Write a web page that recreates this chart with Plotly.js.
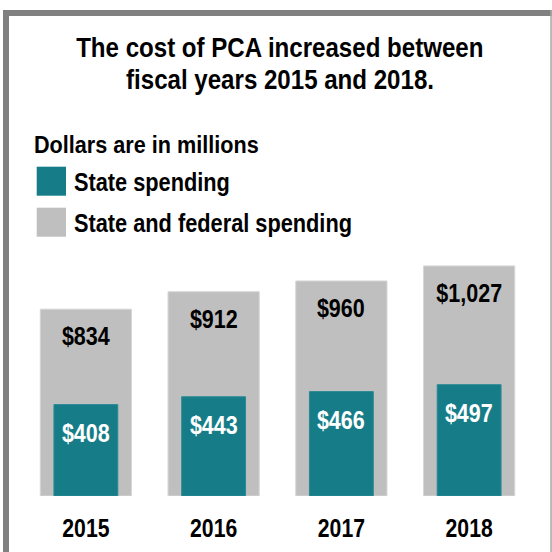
<!DOCTYPE html>
<html>
<head>
<meta charset="utf-8">
<script src="https://cdn.plot.ly/plotly-3.0.1.min.js"></script>
<style>
html,body{margin:0;padding:0;background:#fff;}
#chart{width:552px;height:552px;}
</style>
</head>
<body>
<div id="chart"></div>
<script>
const years = ['2015', '2016', '2017', '2018'];
const stateSpending = [408, 443, 466, 497];
const totalSpending = [834, 912, 960, 1027];
const stateLabels = ['$408', '$443', '$466', '$497'];
const totalLabels = ['$834', '$912', '$960', '$1,027'];

const FONT = '"Liberation Sans", Arial, Helvetica, sans-serif';
const TEAL = '#167d88';
const GRAY = '#bfbfbf';

// plot area in pixels
const L = 22, R = 533.2, T = 200, B = 496;
const W = R - L, H = B - T;
const px = x => (x - L) / W;
const py = y => (B - y) / H;

const traces = [
  {type: 'bar', x: years, y: totalSpending, width: 0.714, marker: {color: GRAY, line: {color: '#d6d6d6', width: 1}}, hoverinfo: 'skip'},
  {type: 'bar', x: years, y: stateSpending, width: 0.5, marker: {color: TEAL, line: {color: '#2a8a94', width: 1}}, hoverinfo: 'skip'}
];

// annotations, each with a horizontal condensing factor (narrow bold face)
const annotations = [];
const condense = [];
function addAnn(a, f) { annotations.push(a); condense.push(f); }

years.forEach((yr, i) => {
  addAnn({x: i, y: totalSpending[i], xref: 'x', yref: 'y', text: totalLabels[i], showarrow: false,
    yanchor: 'middle', yshift: -27, font: {family: FONT, size: 25, color: '#000', weight: 700}}, 0.86);
  addAnn({x: i, y: stateSpending[i], xref: 'x', yref: 'y', text: stateLabels[i], showarrow: false,
    yanchor: 'middle', yshift: -28, font: {family: FONT, size: 25, color: '#fff', weight: 700}}, 0.86);
});
// title lines
addAnn({xref: 'paper', yref: 'paper', x: px(280), y: py(48), text: 'The cost of PCA increased between', showarrow: false,
  xanchor: 'center', yanchor: 'middle', font: {family: FONT, size: 28, color: '#000', weight: 700}}, 0.86);
addAnn({xref: 'paper', yref: 'paper', x: px(280), y: py(80), text: 'fiscal years 2015 and 2018.', showarrow: false,
  xanchor: 'center', yanchor: 'middle', font: {family: FONT, size: 28, color: '#000', weight: 700}}, 0.86);
// legend
addAnn({xref: 'paper', yref: 'paper', x: px(32.5), y: py(145.3), text: 'Dollars are in millions', showarrow: false, align: 'left',
  xanchor: 'left', yanchor: 'middle', font: {family: FONT, size: 23.5, color: '#000', weight: 700}}, 0.92);
addAnn({xref: 'paper', yref: 'paper', x: px(72), y: py(181.5), text: 'State spending', showarrow: false, align: 'left',
  xanchor: 'left', yanchor: 'middle', font: {family: FONT, size: 25, color: '#000', weight: 700}}, 0.87);
addAnn({xref: 'paper', yref: 'paper', x: px(72), y: py(222.5), text: 'State and federal spending', showarrow: false, align: 'left',
  xanchor: 'left', yanchor: 'middle', font: {family: FONT, size: 25, color: '#000', weight: 700}}, 0.87);

const rect = (x0, y0, x1, y1, color) => ({type: 'rect', xref: 'paper', yref: 'paper', x0: px(x0), x1: px(x1), y0: py(y1), y1: py(y0),
  fillcolor: color, line: {width: 0}, layer: 'above'});
const shapes = [
  rect(36.7, 166.7, 66, 195.7, TEAL),
  rect(36.7, 207.7, 66, 236.7, GRAY),
  rect(3, 10, 9, 552, '#808080'),
  rect(3, 10, 552, 16, '#808080'),
  rect(550.5, 10, 552, 552, '#a6a6a6')
];

const layout = {
  width: 552, height: 552,
  margin: {l: L, r: 552 - R, t: T, b: 552 - B, pad: 0},
  paper_bgcolor: '#fff', plot_bgcolor: '#fff',
  barmode: 'overlay', showlegend: false,
  xaxis: {type: 'category', range: [-0.5, 3.5], showgrid: false, zeroline: false, showline: false, ticks: '',
    tickfont: {family: FONT, size: 26.5, color: '#000', weight: 700}, ticklabelstandoff: 13, fixedrange: true},
  yaxis: {range: [0, H / 0.224], visible: false, showgrid: false, zeroline: false, fixedrange: true},
  annotations: annotations,
  shapes: shapes
};

function squeeze(t, f) {
  const len = t.getComputedTextLength();
  if (len > 0) {
    t.setAttribute('textLength', (len * f).toFixed(2));
    t.setAttribute('lengthAdjust', 'spacingAndGlyphs');
  }
}

Plotly.newPlot('chart', traces, layout, {displayModeBar: false, staticPlot: true}).then(() => {
  document.querySelectorAll('#chart .annotation').forEach(g => {
    const i = +g.getAttribute('data-index');
    const t = g.querySelector('text');
    if (t && condense[i]) squeeze(t, condense[i]);
  });
  document.querySelectorAll('#chart .xtick text').forEach(t => squeeze(t, 0.8));
});
</script>
</body>
</html>
